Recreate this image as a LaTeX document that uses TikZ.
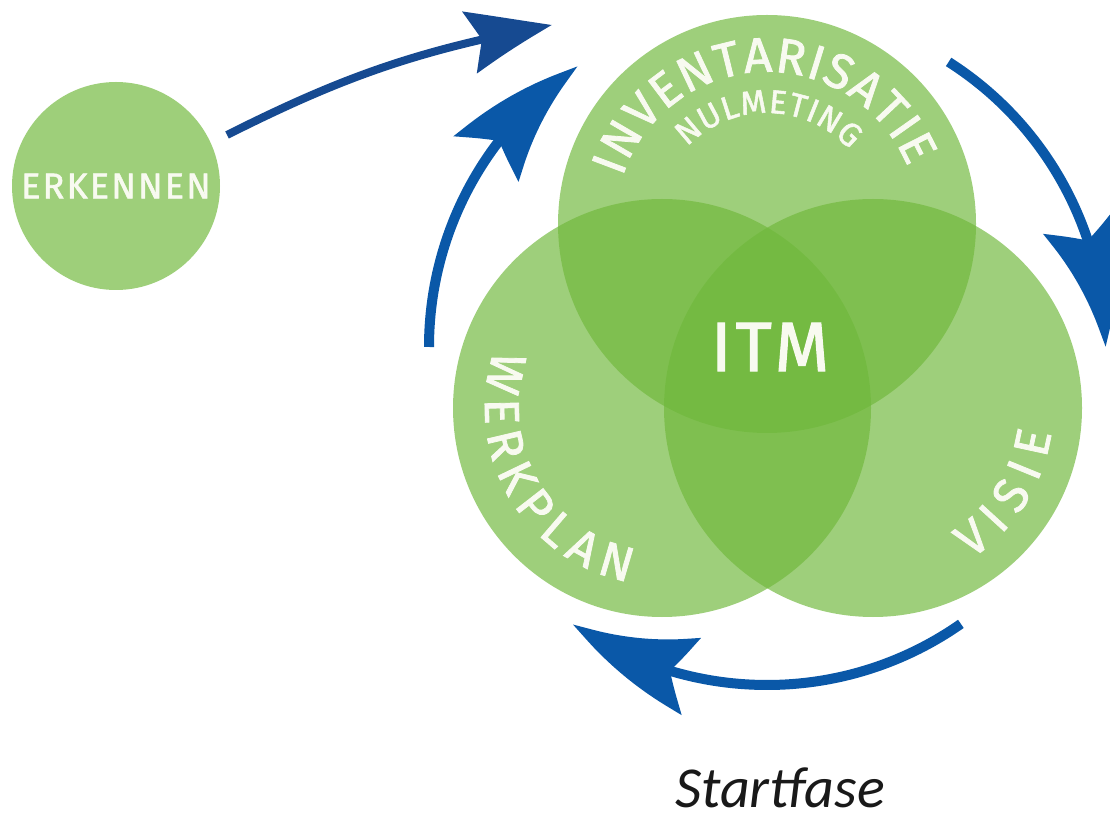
\documentclass[tikz,border=0pt]{standalone}
\usepackage{fontspec}
\setmainfont{Fira Sans}[FakeBold=1.6]
\newfontfamily\calfont{Carlito}
\usetikzlibrary{arrows.meta,bending,decorations.text}
\definecolor{lightg}{RGB}{158,207,122}
\definecolor{baseg}{RGB}{112,184,60}
\definecolor{loopblue}{RGB}{10,88,168}
\definecolor{navy}{RGB}{22,74,145}
\definecolor{txt}{RGB}{248,250,240}
\begin{document}
\begin{tikzpicture}[x=1pt,y=1pt,
  ring/.style={circle, fill=baseg, fill opacity=0.68, minimum size=418pt, inner sep=0pt},
  loopar/.style={draw=loopblue, line width=10pt, -{Stealth[length=132pt,width=78pt,inset=22pt,bend]}},
  curvetext/.style={decorate, decoration={text along path, text align={fit to path}, text color=txt}},
]
\useasboundingbox (0,0) rectangle (1110,825);

% circles
\node[ring] (top) at (767,601) {};
\node[ring] (left) at (662,417) {};
\node[ring] (right) at (873,417) {};
\node[circle, fill=lightg, minimum size=208pt, inner sep=0pt, text=txt,
      font=\addfontfeatures{LetterSpace=6}\fontsize{36}{36}\selectfont] (erk) at (116,639) {ERKENNEN};

% curved labels
\path[curvetext, decoration={text={|\fontsize{49}{49}\selectfont|INVENTARISATIE}}]
  ([shift={(162:152)}]top.center) arc[start angle=162, end angle=22, radius=152];
\path[curvetext, decoration={text={|\fontsize{33}{33}\selectfont|NULMETING}}]
  ([shift={(136:111)}]top.center) arc[start angle=136, end angle=42, radius=111];
\path[curvetext, decoration={text={|\fontsize{49}{49}\selectfont|WERKPLAN}}]
  ([shift={(161:177)}]left.center) arc[start angle=161, end angle=259, radius=177];
\path[curvetext, decoration={text={|\fontsize{49}{49}\selectfont|VISIE}}]
  ([shift={(-57:180)}]right.center) arc[start angle=-57, end angle=-8, radius=180];

\node[font=\addfontfeatures{LetterSpace=6}\fontsize{70}{70}\selectfont, text=txt, inner sep=0pt] (itm) at (770,478) {ITM};

\node[font=\calfont\itshape\fontsize{58}{58}\selectfont, text={rgb,255:red,25;green,25;blue,25},
      anchor=base, inner sep=0pt] (start) at (780,18) {Startfase};

% arrows
\coordinate (a1s) at (227,690);
\coordinate (a1e) at (552,800);
\draw[draw=navy, line width=8pt, -{Stealth[length=90pt,width=62pt,inset=14pt,bend]}]
  (a1s) to[bend left=8] (a1e);

\coordinate (cyc) at (767,478);
\draw[loopar] ([shift={(180:338)}]cyc) arc[start angle=180, end angle=124, radius=338];
\draw[loopar] ([shift={(57.5:338)}]cyc) arc[start angle=57.5, end angle=0, radius=338];
\draw[loopar] ([shift={(-55:338)}]cyc) arc[start angle=-55, end angle=-125, radius=338];
\end{tikzpicture}
\end{document}
